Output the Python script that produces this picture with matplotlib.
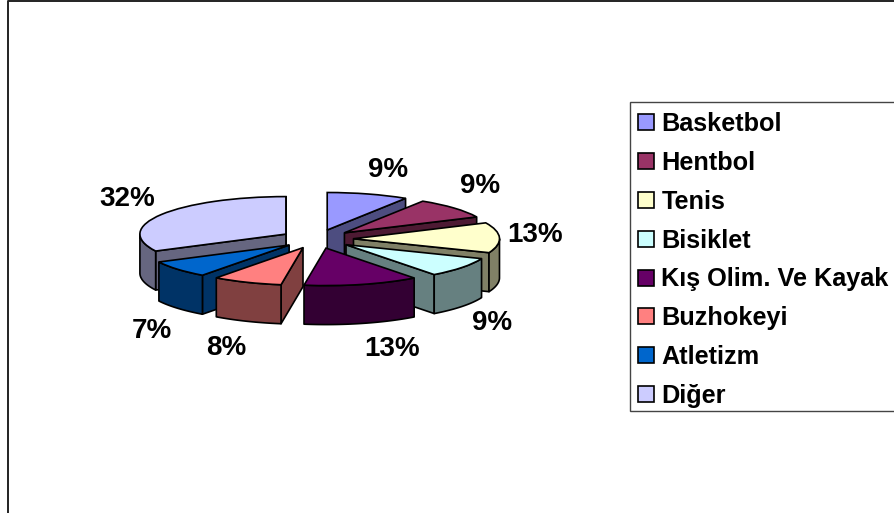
import numpy as np
import matplotlib
matplotlib.use('Agg')
import matplotlib.pyplot as plt
from matplotlib.lines import Line2D
from matplotlib.patches import Rectangle

plt.rcParams['font.family'] = ['Liberation Sans', 'DejaVu Sans']

# percent shares, clockwise from 12 o'clock
labels = ['Basketbol', 'Hentbol', 'Tenis', 'Bisiklet', 'Kış Olim. Ve Kayak', 'Buzhokeyi', 'Atletizm', 'Diğer']
values = [9, 9, 13, 8.6, 12.7, 7.7, 7.4, 32.4]
top_colors = ['#9999FF', '#993366', '#FFFFCC', '#CCFFFF', '#660066', '#FF8080', '#0066CC', '#CCCCFF']
wall_colors = ['#4D4D80', '#4D1A33', '#808066', '#668080', '#330033', '#804040', '#003366', '#666680']

W, H = 895, 513
CX, CY = 317, 239      # pie centre in pixels
RX, RY = 146, 37.5     # pixels per data unit
DEPTH = 39 / RY
LW = 1.2
FS = 18.2

fig = plt.figure(figsize=(W / 100, H / 100), dpi=100)
ax = fig.add_axes([0, 0, 1, 1])

wedges, _ = ax.pie(values, startangle=90, counterclock=False, explode=[0.25] * len(values),
                   colors=top_colors, wedgeprops={'edgecolor': 'black', 'linewidth': LW})
ax.set_aspect('auto')
ax.set_xlim(-CX / RX, (W - CX) / RX)
ax.set_ylim((CY - H) / RY, CY / RY)
ax.axis('off')


def mid_y(w):
    return w.center[1] + 0.5 * np.sin(np.radians((w.theta1 + w.theta2) / 2))


# back to front, each slice gets its own z level
order = sorted(range(len(wedges)), key=lambda i: -mid_y(wedges[i]))
for rank, i in enumerate(order):
    w = wedges[i]
    z = 2 + rank * 2
    w.set_zorder(z + 1)
    cx, cy = w.center
    t1, t2 = np.radians(w.theta1), np.radians(w.theta2)
    style = dict(facecolor=wall_colors[i], edgecolor='black', linewidth=LW, zorder=z, joinstyle='round')

    # cut faces
    for t, normal in ((t1, t1 - np.pi / 2), (t2, t2 + np.pi / 2)):
        if np.sin(normal) < 0:
            xs = [cx, cx + np.cos(t), cx + np.cos(t), cx]
            ys = [cy, cy + np.sin(t), cy + np.sin(t) - DEPTH, cy - DEPTH]
            ax.fill(xs, ys, **style)

    # rim, only the part that faces the viewer
    t = np.linspace(t1, t2, 200)
    t = t[np.sin(t) <= 0]
    if len(t) > 1:
        xs = cx + np.cos(t)
        ys = cy + np.sin(t)
        ax.fill(np.r_[xs, xs[::-1]], np.r_[ys, ys[::-1] - DEPTH], **style)

# percent labels, offset in pixels from the middle of each slice's rim
label_offsets = [(20, 24), (26, 22), (36, 3), (30, -56), (30, -65), (-21, -66), (-26, -62), (-34, 15)]
for w, v, off in zip(wedges, values, label_offsets):
    tm = np.radians((w.theta1 + w.theta2) / 2)
    ax.annotate(f'{round(v)}%', xy=(w.center[0] + np.cos(tm), w.center[1] + np.sin(tm)), xytext=off,
                textcoords='offset pixels', ha='center', va='center',
                fontsize=20, fontweight='bold', color='black', zorder=50)

# legend box runs past the right edge of the image
fig.add_artist(Rectangle((630 / W, 1 - 411 / H), 300 / W, 309 / H, transform=fig.transFigure,
                         facecolor='white', edgecolor='#444444', linewidth=1.0, zorder=60))
leg = fig.legend(wedges, labels, loc='upper left', bbox_to_anchor=(630 / W, 1 - 104 / H),
                 borderaxespad=0, prop={'weight': 'bold', 'size': FS}, frameon=False,
                 handlelength=0.6, handleheight=0.6, handletextpad=0.31, labelspacing=0.585,
                 borderpad=0.33)
leg.set_zorder(61)

# chart area border, only left and top fall inside the image
fig.add_artist(Line2D([8 / W, 8 / W, 1], [0, 1 - 1 / H, 1 - 1 / H], color='#222222', linewidth=1.4))

fig.savefig('out.png', dpi=100)
